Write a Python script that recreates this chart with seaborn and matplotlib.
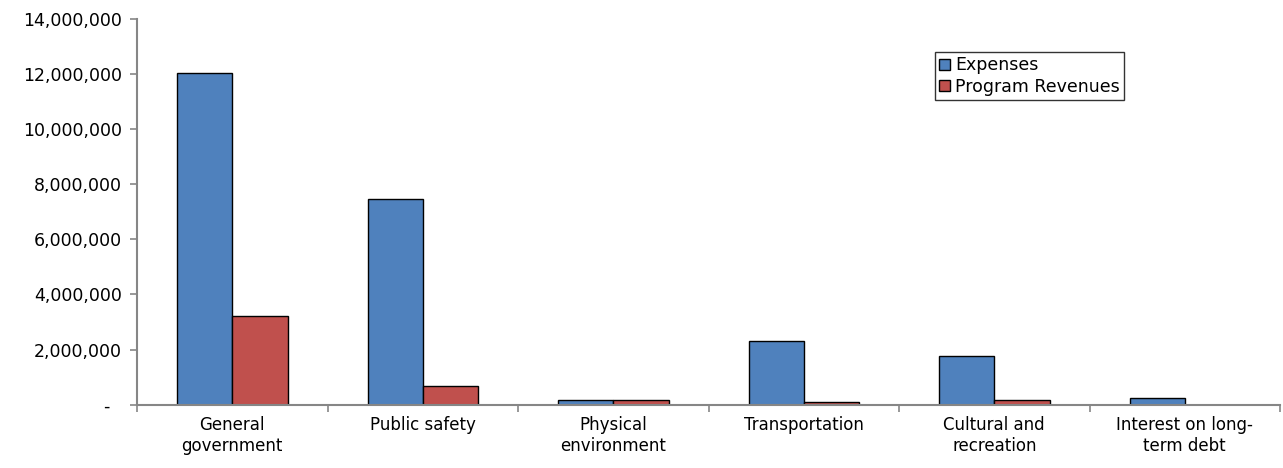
import matplotlib
matplotlib.use("Agg")
import matplotlib.pyplot as plt
import matplotlib.ticker as mticker
import numpy as np
import pandas as pd
import seaborn as sns

categories = ["General\ngovernment", "Public safety", "Physical\nenvironment",
              "Transportation", "Cultural and\nrecreation", "Interest on long-\nterm debt"]
expenses = [12030000, 7450000, 170000, 2320000, 1780000, 230000]
program_revenues = [3210000, 690000, 160000, 90000, 170000, 0]
series_names = ["Expenses", "Program Revenues"]
colors = ["#4F81BD", "#C0504D"]

df = pd.DataFrame({
    "category": categories * 2,
    "series": [series_names[0]] * len(categories) + [series_names[1]] * len(categories),
    "value": expenses + program_revenues,
})

sns.set_style("white")
plt.rcParams["font.family"] = ["DejaVu Sans"]
plt.rcParams["text.color"] = "black"
plt.rcParams["xtick.color"] = "black"
plt.rcParams["ytick.color"] = "black"

fig = plt.figure(figsize=(12.83, 4.68), dpi=100)
ax = fig.add_axes([0.1068, 0.1353, 0.8909, 0.8241])

sns.barplot(data=df, x="category", y="value", hue="series", order=categories,
            hue_order=series_names, palette=colors, width=0.58,
            edgecolor="black", linewidth=1.0, saturation=1, ax=ax)

ax.set_xlim(-0.5, len(categories) - 0.5)
ax.set_ylim(0, 14000000)
ax.set_xlabel("")
ax.set_ylabel("")

# y axis: accounting-style labels
ax.yaxis.set_major_locator(mticker.MultipleLocator(2000000))
ax.yaxis.set_major_formatter(mticker.FuncFormatter(
    lambda v, p: "-  " if v == 0 else f"{v:,.0f}"))

# x axis: ticks between categories, labels at the centers
ax.set_xticks(np.arange(-0.5, len(categories), 1.0))
ax.set_xticklabels([])
ax.set_xticks(np.arange(len(categories)), minor=True)
ax.set_xticklabels(categories, minor=True)
ax.tick_params(axis="x", which="minor", bottom=True, length=0, pad=8,
               labelsize=12, labelcolor="black")
ax.tick_params(axis="x", which="major", bottom=True, length=5, width=1.2,
               color="#868686", direction="out")
ax.tick_params(axis="y", left=True, length=5, width=1.2, color="#868686",
               direction="out", labelsize=12.5, pad=6, labelcolor="black")

for side in ["top", "right"]:
    ax.spines[side].set_visible(False)
for side in ["left", "bottom"]:
    ax.spines[side].set_color("#868686")
    ax.spines[side].set_linewidth(1.5)

leg = ax.legend(loc="upper left", bbox_to_anchor=(0.698, 0.9145), frameon=True,
                fancybox=False, edgecolor="black", fontsize=12.5, handlelength=0.6,
                handleheight=0.6, handletextpad=0.3, borderpad=0.25, labelspacing=0.2,
                borderaxespad=0)
leg.get_frame().set_linewidth(1.0)
for t in leg.get_texts():
    t.set_color("black")
for h in leg.legend_handles:
    h.set_edgecolor("black")
    h.set_linewidth(1.0)

fig.savefig("out.png", dpi=100)
